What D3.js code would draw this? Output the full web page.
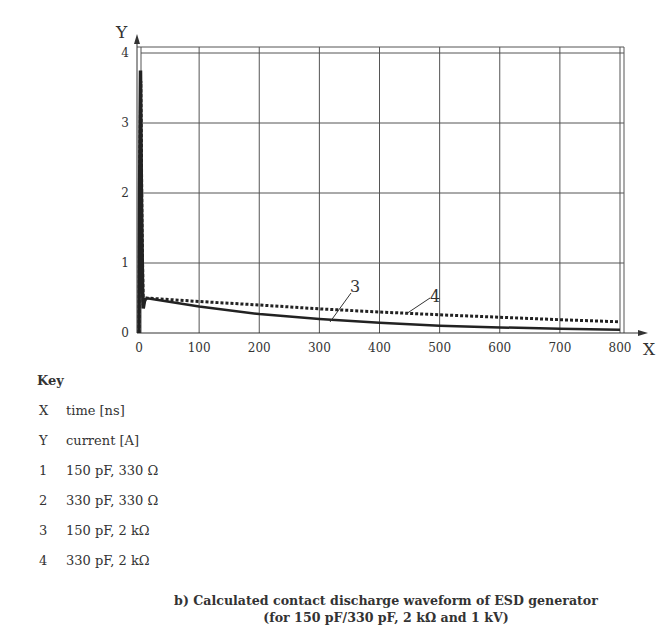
<!DOCTYPE html><html><head><meta charset="utf-8"><script src="https://cdn.jsdelivr.net/npm/d3@7"></script>
<style>body{margin:0;background:#fff}text{font-family:"DejaVu Serif","Liberation Serif",serif;fill:#333}</style></head><body>
<svg id="c" width="667" height="631"></svg>
<script>
const xTicks=[0,100,200,300,400,500,600,700,800];
const yTicks=[0,1,2,3,4];
const spike1=[[0,0],[1,2],[2.5,3.75],[4,2],[6,0.6],[7,0.35],[9,0.45],[11,0.5]];
const spike2=[[0,0],[1.5,2.5],[3,3.6],[5,1.5],[7,0.4],[9,0.45],[11,0.5]];
const curve3=[[11,0.5],[100,0.38],[200,0.27],[300,0.2],[400,0.145],[500,0.105],[600,0.08],[700,0.06],[800,0.045]];
const curve4=[[11,0.5],[100,0.45],[200,0.4],[300,0.345],[400,0.3],[500,0.26],[600,0.225],[700,0.19],[800,0.16]];
const keyItems=[["X","time [ns]"],["Y","current [A]"],["1","150 pF, 330 Ω"],["2","330 pF, 330 Ω"],["3","150 pF, 2 kΩ"],["4","330 pF, 2 kΩ"]];
const svg=d3.select("#c");
const x=d3.scaleLinear().domain([0,800]).range([139,620]);
const y=d3.scaleLinear().domain([0,4]).range([333,53]);
const g=svg.append("g");
yTicks.slice(1).forEach(t=>g.append("line").attr("x1",141).attr("x2",624).attr("y1",y(t)).attr("y2",y(t)).attr("stroke","#555"));
xTicks.slice(1).forEach(t=>g.append("line").attr("x1",x(t)).attr("x2",x(t)).attr("y1",47).attr("y2",333).attr("stroke","#555"));
g.append("line").attr("x1",137).attr("x2",624).attr("y1",47).attr("y2",47).attr("stroke","#555");
g.append("line").attr("x1",624).attr("x2",624).attr("y1",47).attr("y2",333).attr("stroke","#555");
g.append("line").attr("x1",141).attr("x2",141).attr("y1",47).attr("y2",333).attr("stroke","#555");
g.append("line").attr("x1",137).attr("x2",640).attr("y1",333).attr("y2",333).attr("stroke","#333");
g.append("path").attr("d","M648,333 L638,330 L638,336Z").attr("fill","#333");
g.append("line").attr("x1",137).attr("x2",137).attr("y1",333).attr("y2",42).attr("stroke","#333");
g.append("path").attr("d","M137,34 L134,44 L140,44Z").attr("fill","#333");
xTicks.forEach(t=>g.append("text").attr("x",x(t)).attr("y",352).attr("text-anchor","middle").attr("font-size",12).text(t));
yTicks.forEach(t=>g.append("text").attr("x",125).attr("y",y(t)+4).attr("text-anchor","middle").attr("font-size",12).text(t));
g.append("text").attr("x",643).attr("y",355).attr("font-size",17).text("X");
g.append("text").attr("x",116).attr("y",38).attr("font-size",17).text("Y");
const line=d3.line().x(d=>x(d[0])).y(d=>y(d[1]));
g.append("path").attr("d",line(curve4)).attr("fill","none").attr("stroke","#222").attr("stroke-width",3).attr("stroke-dasharray","3,2");
g.append("path").attr("d",line(curve3)).attr("fill","none").attr("stroke","#222").attr("stroke-width",2.5);
g.append("path").attr("d",line(spike2)).attr("fill","none").attr("stroke","#222").attr("stroke-width",3).attr("stroke-dasharray","3,2");
g.append("path").attr("d",line(spike1)).attr("fill","none").attr("stroke","#222").attr("stroke-width",3.5);
g.append("line").attr("x1",330).attr("y1",322).attr("x2",351).attr("y2",293).attr("stroke","#333");
g.append("text").attr("x",350).attr("y",292).attr("font-size",16).text("3");
g.append("line").attr("x1",406).attr("y1",314).attr("x2",430).attr("y2",298).attr("stroke","#333");
g.append("text").attr("x",430).attr("y",302).attr("font-size",16).text("4");
svg.append("text").attr("x",37).attr("y",385).attr("font-size",13).attr("font-weight","bold").text("Key");
keyItems.forEach((k,i)=>{const yy=415+i*30;
svg.append("text").attr("x",39).attr("y",yy).attr("font-size",13).text(k[0]);
svg.append("text").attr("x",66).attr("y",yy).attr("font-size",13).text(k[1]);});
svg.append("text").attr("x",386).attr("y",605).attr("text-anchor","middle").attr("font-size",12.6).attr("font-weight","bold").text("b) Calculated contact discharge waveform of ESD generator");
svg.append("text").attr("x",386).attr("y",622).attr("text-anchor","middle").attr("font-size",12.6).attr("font-weight","bold").text("(for 150 pF/330 pF, 2 kΩ and 1 kV)");
</script></body></html>
